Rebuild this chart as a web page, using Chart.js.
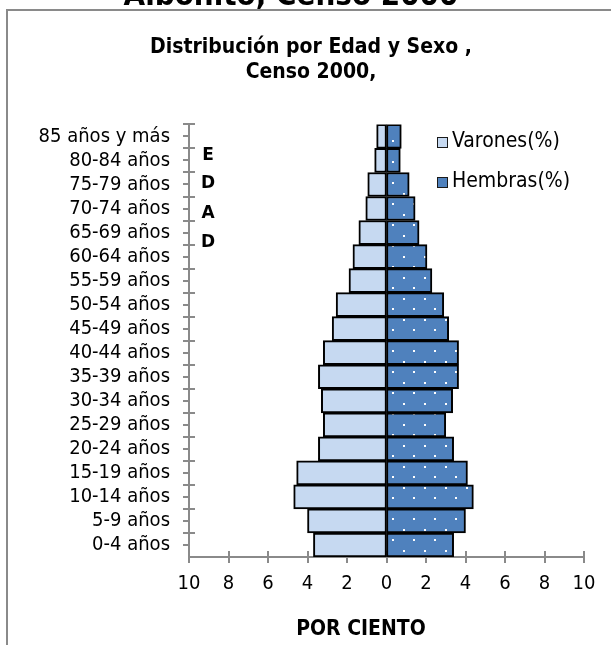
<!DOCTYPE html>
<html>
<head>
<meta charset="utf-8">
<script src="https://cdn.jsdelivr.net/npm/chart.js@4.4.1/dist/chart.umd.min.js"></script>
<style>
html,body{margin:0;padding:0;background:#fff;}
#wrap{position:relative;width:611px;height:645px;}
</style>
</head>
<body>
<div id="wrap"><canvas id="c" width="611" height="645"></canvas></div>
<script>
// ---- data ----
const categories = ["85 años y más","80-84 años","75-79 años","70-74 años","65-69 años","60-64 años","55-59 años","50-54 años","45-49 años","40-44 años","35-39 años","30-34 años","25-29 años","20-24 años","15-19 años","10-14 años","5-9 años","0-4 años"];
const varones = [0.5,0.6,0.95,1.05,1.4,1.7,1.9,2.55,2.75,3.2,3.45,3.3,3.2,3.45,4.55,4.7,4.0,3.7];
const hembras = [0.75,0.7,1.15,1.45,1.65,2.05,2.3,2.9,3.15,3.65,3.65,3.35,3.0,3.4,4.1,4.4,4.0,3.4];
const seriesNames = ["Varones(%)","Hembras(%)"];
const xTicks = [-10,-8,-6,-4,-2,0,2,4,6,8,10];
const titleLines = ["Distribución por Edad y Sexo ,","Censo 2000,"];
const topTitle = "Aibonito, Censo 2000";
const sideWord = ["E","D","A","D"];
const xTitle = "POR CIENTO";

const FONT = "'DejaVu Sans Condensed', 'DejaVu Sans', sans-serif";
const AXIS = '#8a8a8a';
const LIGHT = '#C6D9F1';
const DARK = '#4F81BD';

// dotted pattern for Hembras
function makePattern(){
  const t = document.createElement('canvas');
  t.width = 21; t.height = 21;
  const g = t.getContext('2d');
  g.fillStyle = DARK; g.fillRect(0,0,21,21);
  g.fillStyle = '#ffffff';
  g.fillRect(4,4,2,2);
  g.fillRect(14,14,2,2);
  return g.createPattern(t,'repeat');
}
const ctx = document.getElementById('c').getContext('2d');
const pattern = makePattern();

const deco = {
  id:'deco',
  beforeDraw(chart){
    const c = chart.ctx;
    c.save();
    c.strokeStyle = AXIS; c.lineWidth = 2;
    c.beginPath();
    c.moveTo(7,645); c.lineTo(7,10); c.lineTo(611,10);
    c.stroke();
    c.fillStyle = '#000';
    c.font = "bold 31px " + FONT;
    c.textAlign = 'center'; c.textBaseline = 'alphabetic';
    c.fillText(topTitle, 291, 5);
    c.restore();
  },
  beforeDatasetsDraw(chart){
    const c = chart.ctx;
    const xs = chart.scales.x, ys = chart.scales.y;
    c.save();
    c.strokeStyle = AXIS; c.lineWidth = 2;
    c.beginPath();
    xs.ticks.forEach(t=>{
      const px = Math.round(xs.getPixelForValue(t.value));
      c.moveTo(px, xs.top-6); c.lineTo(px, xs.top+6);
    });
    const n = categories.length;
    for(let i=0;i<n;i++){
      const cy = ys.getPixelForValue(i);
      const half = (ys.getPixelForValue(1)-ys.getPixelForValue(0))/2;
      const b = Math.round(cy-half);
      c.moveTo(ys.right-6, b); c.lineTo(ys.right+6, b);
      c.moveTo(ys.right-6, Math.round(cy)); c.lineTo(ys.right, Math.round(cy));
    }
    c.stroke();
    c.restore();
  },
  afterDraw(chart){
    const c = chart.ctx;
    c.save();
    // legend
    c.font = "21px " + FONT;
    c.textBaseline = 'middle'; c.textAlign = 'left';
    const fills = [LIGHT, DARK];
    seriesNames.forEach((nm,i)=>{
      const y = 142 + i*40;
      c.fillStyle = fills[i];
      c.fillRect(437, y-5, 11, 11);
      c.strokeStyle = '#1a1a1a'; c.lineWidth = 1;
      c.strokeRect(437.5, y-4.5, 10, 10);
      c.fillStyle = '#000';
      c.fillText(nm, 452, y);
    });
    // side word
    c.font = "bold 17px 'DejaVu Sans', sans-serif";
    c.textAlign = 'center';
    const ys = [156, 184, 214, 243];
    sideWord.forEach((ch,i)=> c.fillText(ch, 208, ys[i]));
    // x axis title
    c.font = "bold 21px " + FONT;
    c.fillText(xTitle, 361, 630);
    c.restore();
  }
};

new Chart(ctx, {
  type:'bar',
  data:{
    labels: categories,
    datasets:[
      {label:seriesNames[0], data: varones.map(v=>-v), backgroundColor: LIGHT, borderColor:'#000', borderWidth:2, borderSkipped:false},
      {label:seriesNames[1], data: hembras, backgroundColor: pattern, borderColor:'#000', borderWidth:2, borderSkipped:false}
    ]
  },
  options:{
    indexAxis:'y',
    responsive:false,
    animation:false,
    barPercentage:1,
    categoryPercentage:1,
    layout:{padding:{left:38,right:27,top:0,bottom:0}},
    plugins:{
      legend:{display:false},
      tooltip:{enabled:false},
      title:{display:true, text:titleLines, color:'#000', font:{family:FONT, size:21, weight:'bold', lineHeight:1.2}, padding:{top:35,bottom:39}}
    },
    scales:{
      x:{
        stacked:true, min:-10, max:10,
        afterBuildTicks(s){ s.ticks = xTicks.map(v=>({value:v})); },
        afterFit(s){ s.height = 88; },
        grid:{display:false, drawTicks:false},
        border:{display:true, color:AXIS, width:2},
        ticks:{color:'#000', font:{family:FONT, size:20}, padding:15, callback:v=>Math.abs(v)},
        title:{display:false}
      },
      y:{
        stacked:true,
        afterFit(s){ s.width = 151; },
        grid:{display:false, drawTicks:false},
        border:{display:true, color:AXIS, width:2},
        ticks:{color:'#000', font:{family:FONT, size:20}, padding:19, autoSkip:false}
      }
    }
  },
  plugins:[deco]
});
</script>
</body>
</html>
